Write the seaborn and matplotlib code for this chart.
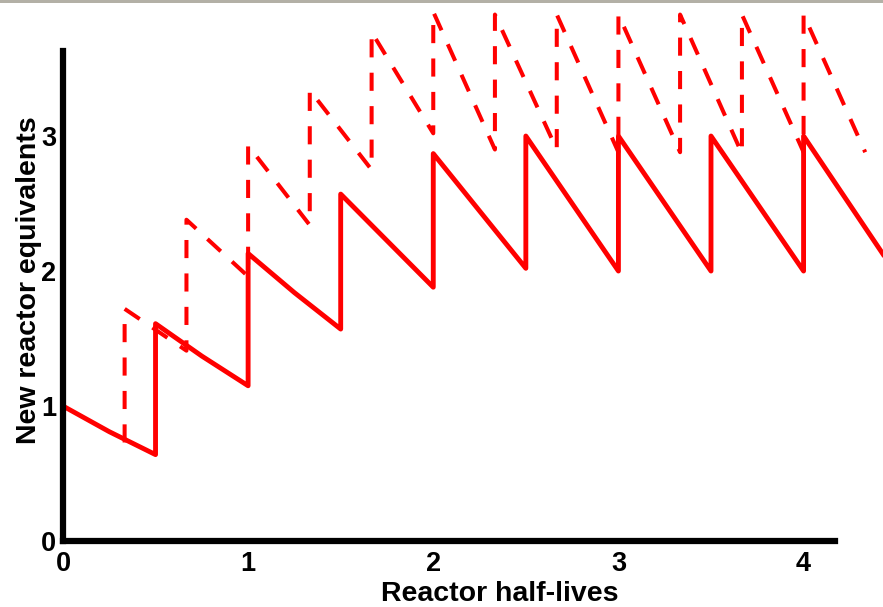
import matplotlib
matplotlib.use("Agg")
import matplotlib.pyplot as plt
import seaborn as sns
import pandas as pd
from matplotlib.patches import Rectangle

# ---- data ----
solid_x = [0.0, 0.25, 0.5, 0.5, 0.75, 1.0, 1.0, 1.25, 1.5, 1.5, 2.0, 2.0, 2.5,
           2.5, 3.0, 3.0, 3.5, 3.5, 4.0, 4.0, 4.5]
solid_y = [1.00, 0.81, 0.64, 1.61, 1.37, 1.15, 2.13, 1.84, 1.57, 2.57, 1.88, 2.87, 2.02,
           3.00, 2.00, 3.00, 2.00, 3.00, 2.00, 3.00, 1.98]

dashed_x = [0.333, 0.333, 0.667, 0.667, 1.0, 1.0, 1.333, 1.333, 1.667, 1.667, 2.0, 2.0, 2.333,
            2.333, 2.667, 2.667, 3.0, 3.0, 3.333, 3.333, 3.667, 3.667, 4.0, 4.0, 4.333]
dashed_y = [0.73, 1.72, 1.41, 2.38, 1.96, 2.93, 2.34, 3.34, 2.75, 3.77, 3.02, 3.92, 2.90,
            3.90, 2.90, 3.90, 2.88, 3.90, 2.88, 3.90, 2.87, 3.90, 2.88, 3.90, 2.88]

x_ticks = [0, 1, 2, 3, 4]
y_ticks = [0, 1, 2, 3]
x_label = "Reactor half-lives"
y_label = "New reactor equivalents"

sns.set_style("white")
plt.rcParams['font.family'] = ['Liberation Sans', 'DejaVu Sans']

fig = plt.figure(figsize=(8.83, 6.07), dpi=100)
ax = fig.add_axes([0.0713, 0.1087, 0.8744, 0.8073])

df_s = pd.DataFrame({"x": solid_x, "y": solid_y})
df_d = pd.DataFrame({"x": dashed_x, "y": dashed_y})

sns.lineplot(data=df_s, x="x", y="y", sort=False, estimator=None, ax=ax,
             color="#ff0000", linewidth=3.5)
sns.lineplot(data=df_d, x="x", y="y", sort=False, estimator=None, ax=ax,
             color="#ff0000", linewidth=2.9)
ax.lines[1].set_dashes((4.5, 3.8))
for ln in ax.lines:
    ln.set_clip_on(False)

ax.set_xlim(0, 4.17)
ax.set_ylim(0, 3.63)
ax.set_xticks(x_ticks)
ax.set_yticks(y_ticks)
ax.set_xticklabels([str(t) for t in x_ticks], fontweight="bold")
ax.set_yticklabels([str(t) for t in y_ticks], fontweight="bold")

for side in ["top", "right"]:
    ax.spines[side].set_visible(False)
for side in ["left", "bottom"]:
    ax.spines[side].set_linewidth(4.5)
    ax.spines[side].set_color("black")
    ax.spines[side].set_capstyle("projecting")

ax.tick_params(axis="both", direction="in", length=8.5, width=3.5, color="black",
               labelsize=19.5, labelcolor="black")
ax.tick_params(axis="y", pad=5)
ax.tick_params(axis="x", pad=7)

ax.set_xlabel(x_label, fontsize=20.5, fontweight="bold", color="black")
ax.set_ylabel(y_label, fontsize=20.5, fontweight="bold", color="black")
ax.xaxis.set_label_coords(0.566, -0.081)
ax.yaxis.set_label_coords(-0.027, 0.533)

# thin grey strip at the top edge of the picture
fig.patches.append(Rectangle((0, 1 - 3 / 607), 1, 3 / 607, transform=fig.transFigure,
                             facecolor="#b3b0a6", edgecolor="none", zorder=10))

fig.savefig("out.png", dpi=100)
